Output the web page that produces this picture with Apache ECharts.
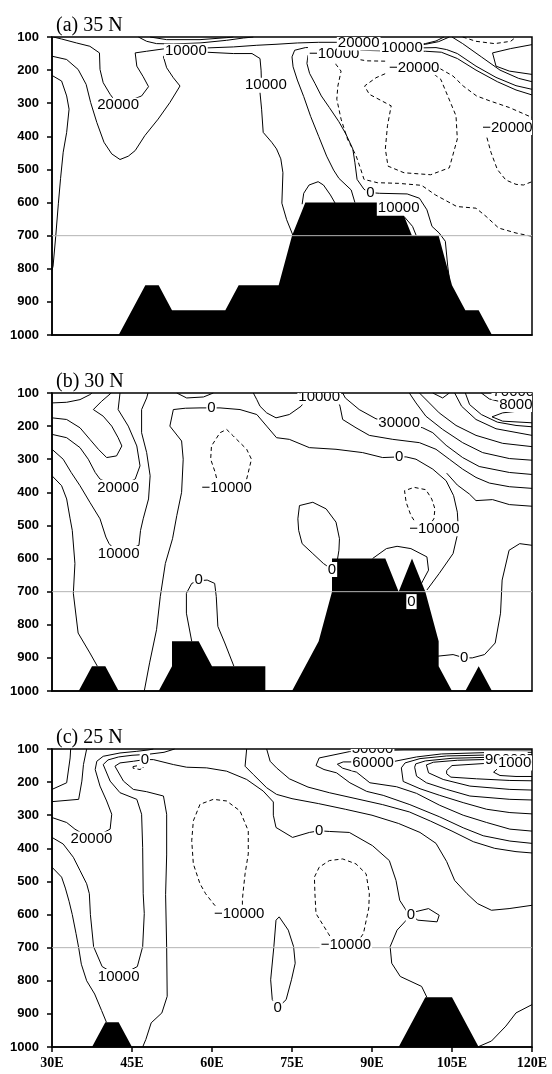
<!DOCTYPE html>
<html><head><meta charset="utf-8">
<script src="https://cdn.jsdelivr.net/npm/echarts@6/dist/echarts.min.js"></script>
<style>html,body{margin:0;padding:0;background:#fff}#c{width:552px;height:1074px}</style>
</head><body><div id="c"></div>
<script>
const lonTicks = [30, 45, 60, 75, 90, 105, 120];
const pressureTicks = [100, 200, 300, 400, 500, 600, 700, 800, 900, 1000];
const panelTitles = ['(a) 35 N', '(b) 30 N', '(c) 25 N'];
const referenceLevel = 700;

// terrain outlines [lon, hPa]
const terrainA = [[30,1000],[42.5,1000],[47.5,850],[50,850],[52.5,925],[62.5,925],[65,850],[72.5,850],[75,700],[77.5,600],[95,600],[97.5,700],[102.5,700],[105,850],[107.5,925],[110,925],[112.5,1000],[120,1000]];
const terrainB = [[30,1000],[35,1000],[37.5,925],[40,925],[42.5,1000],[50,1000],[52.5,925],[52.5,850],[57.5,850],[60,925],[70,925],[70,1000],[75,1000],[80,850],[82.5,700],[82.5,600],[92.5,600],[95,700],[97.5,600],[100,700],[102.5,850],[102.5,925],[105,1000],[107.5,1000],[110,925],[112.5,1000],[120,1000]];
const terrainC = [[30,1000],[37.5,1000],[40,925],[42.5,925],[45,1000],[95,1000],[100,850],[105,850],[110,1000],[120,1000]];

// contour lines [lon, hPa]
const solidA = [
 [[30,216],[31.8,233],[32.75,278],[33.2,318],[32.75,388],[32.1,448],[31.6,528],[31.2,602],[30.7,702],[30.2,792],[30,805]],
 [[30.25,100],[31.8,106],[34.6,118],[37.1,128],[38.9,148],[39,198],[39.6,238],[40.9,273],[42.4,306],[46.8,278],[48.1,250],[47.1,220],[45.9,188],[45.6,148],[47.75,143],[50.9,136],[59,133],[64,130],[68.4,125],[72,122],[76,118],[80,116],[84,116],[87.5,118],[91,121],[95,124],[98,124],[100,120],[102,112],[103.5,100]],
 [[30,158],[32.75,168],[34.9,198],[36.4,243],[37.25,298],[38.4,358],[39.75,418],[41.2,453],[42.75,470],[44.3,460],[45.6,443],[47.4,398],[49.9,348],[52.1,298],[54,248],[52.75,223],[51.5,193],[50.9,160],[51.5,146],[55,143],[59,146],[64,150],[67.5,150],[69,165],[69.2,200],[69.3,250],[69,268],[69.3,318],[69.6,388],[71.2,418],[72.1,438],[72.9,468],[73.3,510],[73.1,602],[74,652],[75.2,700]],
 [[46.2,100],[47.75,113],[49.6,120],[52.75,121],[57.75,118],[62.75,110],[65.9,103],[67.75,100]],
 [[48.4,100],[51.5,108],[57.75,108],[62.75,102],[64,100]],
 [[86.8,600],[86.1,562],[83.8,527],[82.8,502],[81.5,460],[80,400],[78.5,340],[77.2,280],[76,230],[75.2,190],[75,160],[75.5,140],[77.5,132],[82,130],[87,130],[91,131],[95.2,133],[99,133],[102,132],[104,138],[106,150],[109.5,188],[113.25,222],[117,247],[120,258]],
 [[104.5,830],[104.2,792],[103.75,717],[102.6,692],[101.25,672],[100.3,622],[98.9,587],[96.6,574],[91.4,572],[89.7,570],[88.5,560],[87.2,530],[86.8,480],[86.4,438],[85.1,393],[83.8,356],[82,313],[80.5,278],[79.3,240],[78.3,210],[77.8,180],[78,155],[79.5,142],[83,138],[87,139],[90,141],[95,143],[100,143],[103,146],[106,165],[109.5,200],[113.5,235],[117,260],[120,275]],
 [[76.9,605],[77.2,572],[78.2,547],[79.9,537],[80.9,547],[82.2,577],[83.2,605]],
 [[96,642],[97.6,672],[98.3,700]],
 [[97,126],[100,122],[102.5,114],[104.5,100]],
 [[105,100],[107,120],[110.5,160],[114,200],[117.5,225],[120,235]],
 [[120,123],[116,135],[112.6,148],[113.25,188],[115.75,203],[120,213]]
];
const dashedA = [
 [[83,160],[83.25,183],[84.2,203],[83.6,248],[83.4,288],[84.2,348],[85.4,408],[87,458],[87.9,500],[88.5,530],[91,540],[95,542],[99.3,548],[101.9,577],[105.9,612],[109.5,617],[111.4,642],[113.75,677],[117,692],[120,702]],
 [[86.5,165],[89,172],[92.5,173]],
 [[95,200],[92.6,210],[90.75,223],[88.6,248],[89.5,273],[93.6,308],[92.9,368],[92.5,438],[93,490],[96,510],[101,516],[104.5,495],[106,408],[105.75,338],[104.2,278],[102.9,228],[101,205]],
 [[101.5,190],[102.7,195],[105.2,218],[107.1,248],[109.6,278],[112.1,293],[115.75,313],[120,343]],
 [[111,385],[111.4,395],[112.3,448],[113.5,500],[115.1,532],[117,545],[118.4,547],[120,537]],
 [[107,100],[109.5,113],[113,120],[116,113],[117,100]]
];
const labelsA = [[42.4,306,'20000'],[55.1,143,'10000'],[70.1,246,'10000'],[82.9,150,'\u221210000'],[95.6,133,'10000'],[87.5,118,'20000'],[97.9,193,'\u221220000'],[115.4,373,'\u221220000'],[89.7,570,'0'],[95,617,'10000']];

const solidB = [
 [[30,130],[32.75,128],[35.25,120],[37.1,105],[37.5,100]],
 [[30,175],[32.75,180],[35.25,205],[37.1,240],[38.7,270],[40.25,295],[42.1,290],[43.1,260],[42.4,235],[41.2,200],[39.6,170],[37.75,150],[39.3,125],[41.1,100]],
 [[30,225],[32.75,235],[35.25,265],[36.8,300],[38.1,340],[39,360],[42.4,385],[45.6,360],[46.5,320],[45.9,260],[44.3,200],[42.4,150],[42.75,100]],
 [[30,270],[32.1,300],[33.6,340],[35.25,380],[37.1,430],[39,480],[40.1,535],[40.7,555],[42.5,585],[46.3,560],[46.6,515],[47.1,480],[48.1,420],[48.4,350],[47.75,280],[46.8,220],[46.8,150],[47.75,115],[48,100]],
 [[30,350],[31.8,380],[32.75,420],[33.4,480],[33.8,515],[34.3,615],[34,705],[34.9,825],[37.1,885],[38.5,925]],
 [[47.3,1000],[48.3,915],[49.6,815],[50.3,715],[51.25,615],[52.6,540],[53.4,470],[54.3,400],[54.6,300],[54.3,245],[52.1,200],[52.75,150],[55,146],[57.75,145],[59.9,145],[61.5,145],[65.25,150],[68.4,165],[70.25,200],[72.1,235],[74.5,240],[78.25,265],[83.25,270],[88.25,280],[92,295],[95.1,293],[96.4,293],[98.25,300],[101.4,330],[103.9,365],[105.3,410],[106,460],[106.2,515],[105.2,585],[102.6,645],[100.3,695]],
 [[104,342],[106,378],[108.25,405],[109.5,425],[112.6,422],[115.75,437],[120,442]],
 [[53.4,100],[55.25,115],[58.4,112],[60.25,100]],
 [[67.75,100],[68.4,120],[69,140],[70.25,160],[72,175],[74.5,165],[76.7,140],[77.6,120],[80.1,112],[83.5,118],[84,140],[84.5,180],[87,205],[89.5,228],[93.9,240],[98.9,250],[102,270],[104.5,300],[107,330],[109.5,355],[112,372],[115.75,383],[120,388]],
 [[84.5,100],[85,115],[87.6,150],[90.75,178],[95.1,190],[99.5,205],[101.4,220],[103.9,258],[107,295],[110.1,322],[115.75,340],[120,346]],
 [[97,100],[98.25,130],[100.1,170],[103.25,210],[107,250],[110.75,280],[115.75,298],[120,303]],
 [[98.9,100],[100.75,130],[102.6,160],[105.75,198],[109.5,228],[114.5,252],[120,262]],
 [[101.4,100],[103.25,115],[104.5,100]],
 [[105.5,100],[106.8,140],[109.5,180],[113.25,208],[120,228]],
 [[107.5,100],[108.3,135],[110.5,165],[113.5,188],[117,198],[120,202]],
 [[120,150],[114.5,160],[112.5,172],[114.5,185],[120,190]],
 [[110.5,100],[112,118],[115,130],[117.75,135],[120,137]],
 [[82.5,633],[80.9,615],[78.9,585],[76.9,555],[76.25,515],[76.1,480],[76.4,440],[78.9,430],[81.4,450],[83.25,490],[83.9,540],[83.8,575],[83.5,605]],
 [[90.1,600],[92.7,570],[94.7,563],[97.3,570],[100.3,595],[100.6,635],[99.6,665],[98.8,690]],
 [[102.2,895],[105.2,890],[107.3,900],[108.8,900],[111.1,890],[113.1,855],[114.1,765],[114.4,665],[115.7,575],[117.7,555],[120,560]],
 [[56.2,850],[55.2,765],[55.2,705],[56.2,675],[57.5,667],[59.1,665],[60.5,675],[60.8,715],[61.1,805],[62.4,855],[64.1,925]]
];
const dashedB = [
 [[61.5,375],[60.9,360],[60.6,340],[59.75,300],[59.9,260],[61.5,220],[62.75,210],[64,230],[66.5,270],[67.4,300],[66.8,340],[66.5,360],[64.5,380]],
 [[100.5,505],[101.6,480],[101.8,450],[101.2,420],[100.1,392],[97.9,385],[96.1,395],[96.4,430],[97.3,470],[98.5,500],[100,510]]
];
const labelsB = [[59.9,145,'0'],[42.4,385,'20000'],[62.75,385,'\u221210000'],[80.1,112,'10000'],[95.1,190,'30000'],[95.1,293,'0'],[116.5,98,'70000'],[117.75,135,'80000'],[101.7,510,'\u221210000'],[42.5,585,'10000'],[57.5,665,'0'],[82.5,633,'0'],[97.4,730,'0'],[107.3,900,'0']];

const solidC = [
 [[30,222],[32.75,202],[33.4,127],[33.5,100]],
 [[30,259],[35,252],[35.6,197],[35.9,147],[36.5,100]],
 [[30,307],[32.75,322],[34.3,342],[37.4,372],[40.9,342],[41.2,297],[40.25,257],[39,212],[38.1,162],[38.4,137],[39.6,122],[42.75,112],[45.9,107],[48,103],[49,100]],
 [[30,367],[32.1,387],[34,427],[35.25,467],[36.5,507],[37,537],[37.2,600],[37.8,697],[39.4,757],[42.5,787],[46,757],[47,697],[47.3,597],[47.1,537],[47,397],[46.8,297],[45.9,252],[42.75,232],[40.9,197],[39.6,147],[40.5,133],[42.5,124],[45,119],[48,116],[51,110],[53,100]],
 [[30,457],[31.8,487],[32.5,520],[33.2,560],[33.8,600],[34.5,657],[35,700],[35.5,750],[36.5,800],[38,840],[39.3,890],[40.2,925]],
 [[47,1000],[47.6,977],[48.6,927],[50.6,897],[51.6,847],[51.5,700],[51.3,540],[51.5,420],[51.5,297],[50.9,242],[47.75,229],[45.25,222],[43.4,197],[41.8,152],[42.75,142],[45.25,137],[47.4,132],[49,132],[52.75,147],[55.25,155],[59,157],[62.75,167],[66.5,192],[69.6,227],[71.5,260],[71.5,300],[72,337],[75.1,367],[78.25,352],[80.1,347],[82,349],[85.75,352],[90.1,392],[93.25,437],[94.5,497],[95.2,557],[96.6,592],[97.3,602],[94.7,647],[93.4,697],[93.7,747],[95.3,787],[99.3,817],[100.3,850]],
 [[72.3,882],[71.3,857],[71,797],[71.6,697],[72,617],[72.6,607],[74.3,647],[75.3,697],[75.6,747],[74.9,797],[73.9,857],[72.3,882]],
 [[97.3,602],[98,592],[100.6,582],[102.6,602],[102.2,622],[98.6,617],[97.3,602]],
 [[109.8,1000],[112.4,982],[115.1,937],[117,897],[120,872]],
 [[66.5,100],[66.2,152],[67.75,177],[70.25,217],[72.1,237],[75,250],[80,265],[85,282],[90,300],[95,325],[99,352],[102,385],[104,440],[105.5,497],[107.8,537],[109.8,567],[112.4,587],[115.7,582],[120,572]],
 [[70.25,100],[70.9,137],[72.1,157],[74.5,190],[78,215],[82,232],[87,250],[92,268],[97,290],[101,318],[105,348],[109,380],[113,400],[117,410],[120,414]],
 [[120,103],[105,103],[96,103],[90.1,105],[85.75,108],[80.1,127],[79.5,150],[81,162],[83.35,172],[85.85,202],[89,228],[92.1,240],[97.1,268],[102.7,305],[107.1,338],[110.85,362],[115.85,378],[120,385]],
 [[120,110],[111,111],[103,115],[98.35,124],[94.3,137],[90.2,142],[86.5,139],[84.6,139],[83.5,146],[84.5,158],[87.1,170],[89.6,202],[94.6,214],[98.35,234],[102.7,270],[107.1,300],[111.5,322],[115.85,342],[120,348]],
 [[120,117],[112,118],[104,121],[99,129],[96.2,142],[95.5,157],[95.85,198],[99,220],[102.7,240],[107.1,262],[111.5,282],[115.85,292],[120,296]],
 [[120,124],[112,125],[105,128],[100,136],[98.2,145],[98,155],[98.35,182],[100.2,202],[104,222],[108.35,242],[115.85,252],[120,254]],
 [[120,130],[113,131],[106,134],[101.5,140],[100.2,148],[100.6,172],[103.35,192],[108.35,212],[115.85,222],[120,224]],
 [[120,140],[115.85,140],[110.85,144],[105,150],[104,165],[104,175],[104.8,185],[109.6,190],[115.85,195],[120,196]],
 [[120,158],[113.5,160],[112.8,170],[114,180],[117,183],[120,183]]
];
const dashedC = [
 [[63,595],[65.1,597],[65.7,580],[65.7,557],[65.8,537],[66.2,477],[66.8,417],[66.8,347],[65.25,287],[62.75,257],[60.25,252],[57.75,267],[56.5,317],[56.2,377],[56.5,447],[57.75,507],[58.8,537],[60.5,572],[63,595]],
 [[85.1,692],[83,690],[81.8,657],[79.5,597],[79.3,537],[79.2,487],[80.1,457],[82,437],[84.5,432],[87,447],[88.9,477],[89.5,537],[89.4,580],[88.4,657],[87,690],[85.1,692]],
 [[45.2,153],[46.2,150],[47.2,155],[47.4,160],[46.5,162],[45.2,158],[45.2,153]]
];
const labelsC = [[47.4,132,'0'],[37.4,372,'20000'],[80.1,347,'0'],[65.1,597,'\u221210000'],[85.1,692,'\u221210000'],[42.5,787,'10000'],[72.3,882,'0'],[97.3,602,'0'],[90.1,101,'50000'],[90.2,142,'60000'],[115.1,132,'90000'],[118.3,142,'100000']];

const panels = [
 {terrain: terrainA, solid: solidA, dashed: dashedA, labels: labelsA},
 {terrain: terrainB, solid: solidB, dashed: dashedB, labels: labelsB},
 {terrain: terrainC, solid: solidC, dashed: dashedC, labels: labelsC}
];

const tops = [37, 393, 749];
const grids = [], xAxes = [], yAxes = [], series = [], titles = [];
panels.forEach((pn, i) => {
  grids.push({left: 52, width: 480, top: tops[i], height: 298, show: true, borderColor: '#000', borderWidth: 1.5, backgroundColor: 'transparent'});
  titles.push({text: panelTitles[i], left: 51, top: tops[i] - 26, textStyle: {fontFamily: 'Liberation Serif', fontSize: 20, fontWeight: 'normal', color: '#000'}});
  const last = i === 2;
  xAxes.push({gridIndex: i, type: 'value', min: lonTicks[0], max: lonTicks[lonTicks.length - 1], interval: 15,
    axisLine: {show: true, lineStyle: {color: '#000', width: 1.5}},
    axisTick: {show: last, inside: false, length: 5, lineStyle: {color: '#000', width: 1.5}},
    axisLabel: {show: last, margin: 9, formatter: v => v + 'E', fontFamily: 'Liberation Serif', fontWeight: 'bold', fontSize: 14, color: '#000'},
    splitLine: {show: false}});
  yAxes.push({gridIndex: i, type: 'value', inverse: true, min: pressureTicks[0], max: pressureTicks[pressureTicks.length - 1], interval: 100,
    axisLine: {show: true, lineStyle: {color: '#000', width: 1.5}},
    axisTick: {show: true, inside: false, length: 5, lineStyle: {color: '#000', width: 1.5}},
    axisLabel: {show: true, margin: 13, formatter: v => String(v), fontFamily: 'Liberation Sans', fontWeight: 'bold', fontSize: 13, color: '#000'},
    splitLine: {show: false}});
  pn.solid.forEach(line => series.push({type: 'line', xAxisIndex: i, yAxisIndex: i, data: line, showSymbol: false, symbol: 'none', silent: true, z: 2, lineStyle: {color: '#000', width: 1}}));
  pn.dashed.forEach(line => series.push({type: 'line', xAxisIndex: i, yAxisIndex: i, data: line, showSymbol: false, symbol: 'none', silent: true, z: 2, lineStyle: {color: '#000', width: 1, type: [4, 3]}}));
  series.push({type: 'line', xAxisIndex: i, yAxisIndex: i, data: pn.terrain, showSymbol: false, symbol: 'none', silent: true, z: 3,
    lineStyle: {width: 0}, areaStyle: {color: '#000', opacity: 1, origin: 1000}});
  series.push({type: 'line', xAxisIndex: i, yAxisIndex: i, data: [[30, referenceLevel], [120, referenceLevel]], showSymbol: false, symbol: 'none', silent: true, z: 4, lineStyle: {color: '#b4b4b4', width: 1}});
  const labs = pn.labels;
  series.push({type: 'custom', xAxisIndex: i, yAxisIndex: i, clip: true, z: 5, silent: true,
    data: labs.map(l => [l[0], l[1]]),
    renderItem: (params, api) => {
      const pt = api.coord([api.value(0), api.value(1)]);
      return {type: 'text', x: pt[0], y: pt[1], style: {text: labs[params.dataIndex][2], fill: '#000', font: '15px "Liberation Sans"', align: 'center', verticalAlign: 'middle', backgroundColor: '#fff', padding: [0, 1, 0, 1]}};
    }});
});

const chart = echarts.init(document.getElementById('c'), null, {renderer: 'canvas'});
chart.setOption({animation: false, backgroundColor: '#fff', title: titles, grid: grids, xAxis: xAxes, yAxis: yAxes, series: series});
</script></body></html>
